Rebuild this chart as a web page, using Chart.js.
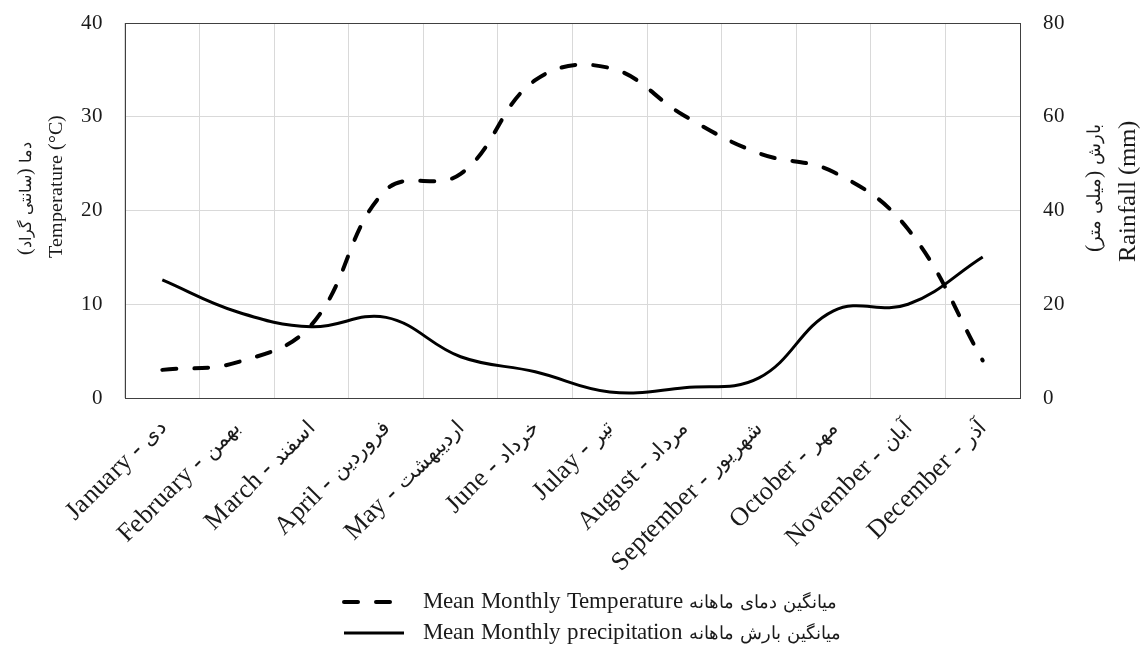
<!DOCTYPE html>
<html>
<head>
<meta charset="utf-8">
<title>Temperature &amp; Rainfall</title>
<script src="https://cdn.jsdelivr.net/npm/chart.js@4.4.1/dist/chart.umd.min.js"></script>
<style>
/* latin from Liberation Serif, persian from DejaVu Sans (a bit smaller) */
@font-face{font-family:'MixSerif';src:local('Liberation Serif'),local('LiberationSerif');unicode-range:U+0000-05FF,U+2000-206F;}
@font-face{font-family:'MixSerif';src:local('DejaVu Sans'),local('DejaVuSans');unicode-range:U+0600-06FF,U+FB50-FDFF,U+FE70-FEFF;size-adjust:80%;}
html,body{margin:0;padding:0;background:#fff;}
.box{position:relative;width:1144px;height:647px;}
</style>
</head>
<body>
<div class="box"><canvas id="climaChart"></canvas></div>
<script>
/* =========================
   Data
   ========================= */
const months = ['January - دی','February - بهمن','March - اسفند','April - فروردین','May - اردیبهشت','June - خرداد',
  'Julay - تیر','August - مرداد','September - شهریور','October - مهر','November - آبان','December - آذر'];
const meanTemp = [3.0, 3.8, 7.8, 22.2, 23.9, 33.9, 35.2, 30.1, 26.1, 24.1, 18.0, 4.0];   // °C
const meanRain = [25.2, 18.4, 15.2, 17.2, 8.8, 5.6, 1.3, 2.2, 4.3, 18.6, 20.0, 30.1];    // mm
const tempTicks = [0, 10, 20, 30, 40];
const rainTicks = [0, 20, 40, 60, 80];
const tempTitle = ['دما (سانتی گراد)', 'Temperature (°C)'];
const rainTitle = ['بارش (میلی متر)', 'Rainfall (mm)'];
const tempLabel = 'Mean Monthly Temperature میانگین دمای ماهانه';
const rainLabel = 'Mean Monthly precipitation میانگین بارش ماهانه';

const FONT = "MixSerif, 'Liberation Serif', 'DejaVu Sans', serif";
const INK = '#1a1a1a', FRAME = '#404040', GRID = '#d9d9d9';

/* =========================
   Plugins (titles + legend)
   ========================= */
const hasArabic = (s)=>/[\u0600-\u06FF]/.test(s);

// both side titles read bottom->top, two lines each
const sideTitles = {
  id:'sideTitles',
  afterDraw(chart){
    const ctx = chart.ctx;
    const put = (txt, x, y, size)=>{
      ctx.save();
      ctx.translate(x, y); ctx.rotate(-Math.PI/2);
      ctx.font = `${size}px ${FONT}`; ctx.fillStyle = INK;
      ctx.textAlign = 'center'; ctx.textBaseline = 'middle';
      ctx.direction = hasArabic(txt) ? 'rtl' : 'ltr';
      ctx.fillText(txt, 0, 0);
      ctx.restore();
    };
    const a = chart.chartArea;
    put(tempTitle[0], a.left - 99, 198, 20);
    put(tempTitle[1], a.left - 68, 186, 20);
    put(rainTitle[0], a.right + 74, 188, 22);
    put(rainTitle[1], a.right + 108, 191, 25);
  }
};

// legend stacked in two rows under the month labels
const stackedLegend = {
  id:'stackedLegend',
  afterDraw(chart, args, o){
    const ctx = chart.ctx;
    chart.data.datasets.forEach((ds, i)=>{
      const y = o.top + i*o.rowGap;
      ctx.save();
      ctx.strokeStyle = ds.borderColor; ctx.lineWidth = ds.borderWidth;
      ctx.lineCap = ds.borderCapStyle || 'butt';
      ctx.setLineDash(ds.borderDash || []);
      ctx.beginPath(); ctx.moveTo(o.left, y); ctx.lineTo(o.left + o.sample, y); ctx.stroke();
      ctx.setLineDash([]);
      ctx.font = `${o.size}px ${FONT}`; ctx.fillStyle = INK;
      ctx.textAlign = 'left'; ctx.textBaseline = 'middle';
      ctx.fillText(ds.label, o.left + o.sample + o.gap, y);
      ctx.restore();
    });
  }
};

// y scales: fixed width, and no extra vertical padding from tick padding
const fixWidth = (w)=>(s)=>{ s.width = w; s.paddingTop = 0; s.paddingBottom = 0; };

/* =========================
   Chart
   ========================= */
function buildChart(){
  Chart.defaults.font.family = FONT;
  Chart.defaults.color = INK;

  new Chart(document.getElementById('climaChart'), {
    type:'line',
    data:{
      labels: months,
      datasets:[
        {label:tempLabel, data:meanTemp, yAxisID:'y', borderColor:'#000', borderWidth:4,
         borderDash:[14,18], borderCapStyle:'round', pointRadius:0, tension:0.4, fill:false},
        {label:rainLabel, data:meanRain, yAxisID:'y1', borderColor:'#000', borderWidth:3,
         pointRadius:0, tension:0.4, fill:false}
      ]
    },
    options:{
      responsive:true, maintainAspectRatio:false, animation:false,
      layout:{padding:{top:23, left:0, right:0, bottom:0}},
      plugins:{
        legend:{display:false}, tooltip:{enabled:false},
        stackedLegend:{left:344, top:602, rowGap:31, sample:60, gap:19, size:23}
      },
      scales:{
        x:{
          offset:true,
          grid:{offset:true, color:GRID, drawTicks:false},
          border:{color:FRAME},
          ticks:{autoSkip:false, minRotation:45, maxRotation:45, padding:15, color:INK, font:{size:26}},
          afterFit:(s)=>{ s.height = 249; }
        },
        y:{
          position:'left', min:tempTicks[0], max:tempTicks[tempTicks.length-1],
          afterBuildTicks:(s)=>{ s.ticks = tempTicks.map(v=>({value:v})); },
          grid:{color:(c)=>c.tick && c.tick.value===tempTicks[tempTicks.length-1] ? FRAME : GRID, drawTicks:false},
          border:{color:FRAME},
          ticks:{padding:22, color:INK, font:{size:21}},
          afterFit:fixWidth(125)
        },
        y1:{
          position:'right', min:rainTicks[0], max:rainTicks[rainTicks.length-1],
          afterBuildTicks:(s)=>{ s.ticks = rainTicks.map(v=>({value:v})); },
          grid:{drawOnChartArea:false, drawTicks:false},
          border:{color:FRAME},
          ticks:{padding:23, color:INK, font:{size:21}},
          afterFit:fixWidth(124)
        }
      }
    },
    plugins:[sideTitles, stackedLegend]
  });
}

/* =========================
   Init (wait for local fonts)
   ========================= */
Promise.all([
  document.fonts.load(`20px MixSerif`, 'Aa'),
  document.fonts.load(`20px MixSerif`, 'دی')
]).catch(()=>{}).then(buildChart);
</script>
</body>
</html>
